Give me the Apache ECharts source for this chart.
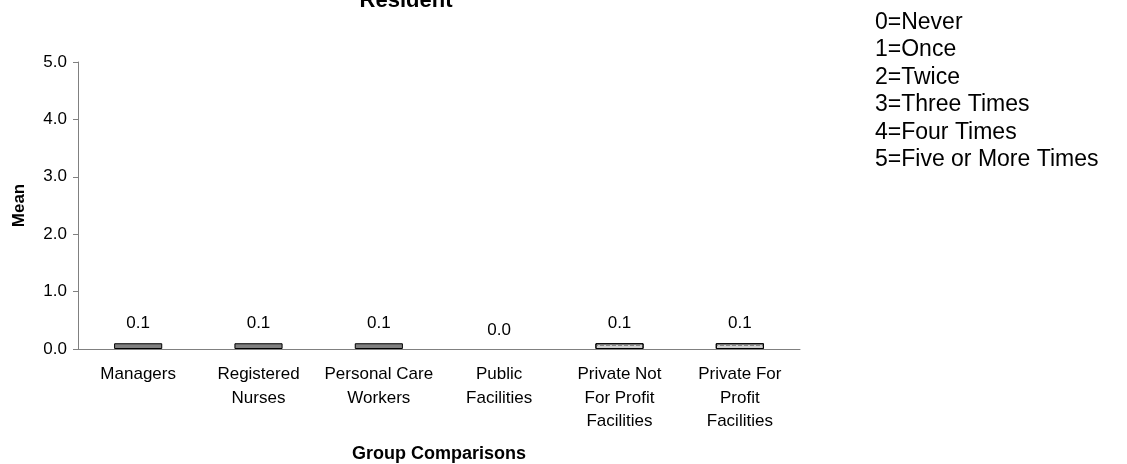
<!DOCTYPE html>
<html>
<head>
<meta charset="utf-8">
<script src="https://cdn.jsdelivr.net/npm/echarts@6/dist/echarts.min.js"></script>
<style>
  html, body { margin: 0; padding: 0; background: #fff; }
  #chart { width: 1127px; height: 464px; }
</style>
</head>
<body>
<div id="chart"></div>
<script>
const categories = ['Managers', 'Registered\nNurses', 'Personal Care\nWorkers', 'Public\nFacilities', 'Private Not\nFor Profit\nFacilities', 'Private For\nProfit\nFacilities'];
const means = [0.1, 0.1, 0.1, 0.0, 0.1, 0.1];
const patterned = [false, false, false, false, true, true];
const legendLines = ['0=Never', '1=Once', '2=Twice', '3=Three Times', '4=Four Times', '5=Five or More Times'];

const chart = echarts.init(document.getElementById('chart'));
const font = 'Liberation Sans, Arial, sans-serif';

const options = {
  animation: false,
  textStyle: { fontFamily: font },
  title: [
    {
      text: 'Resident',
      left: 401,
      top: -15,
      textAlign: 'center',
      textStyle: { fontSize: 22, fontWeight: 'bold', color: '#000', fontFamily: font }
    },
    {
      text: legendLines.join('\n'),
      left: 870,
      top: 4,
      textStyle: { fontSize: 23, fontWeight: 'normal', color: '#000', lineHeight: 27.4, fontFamily: font }
    }
  ],
  grid: { left: 78, right: 327, top: 62, bottom: 115, outerBoundsMode: 'none', containLabel: false },
  xAxis: {
    type: 'category',
    data: categories,
    name: 'Group Comparisons',
    nameLocation: 'middle',
    nameGap: 96,
    nameTextStyle: { fontSize: 18, fontWeight: 'bold', color: '#000' },
    axisLine: { lineStyle: { color: '#808080' } },
    axisTick: { lineStyle: { color: '#444' }, length: 5 },
    axisLabel: { fontSize: 17, color: '#000', lineHeight: 23.5, margin: 14, interval: 0 }
  },
  yAxis: {
    type: 'value',
    min: 0,
    max: 5,
    interval: 1,
    name: 'Mean',
    nameLocation: 'middle',
    nameGap: 50,
    nameTextStyle: { fontSize: 17, fontWeight: 'bold', color: '#000' },
    splitLine: { show: false },
    axisLine: { show: true, lineStyle: { color: '#808080' } },
    axisTick: { show: true, lineStyle: { color: '#808080' }, length: 5 },
    axisLabel: { fontSize: 17, color: '#000', margin: 11, formatter: v => v.toFixed(1) }
  },
  series: [{
    type: 'bar',
    barWidth: '40%',
    data: means.map((v, i) => ({
      value: v,
      itemStyle: v === 0
        ? { color: 'transparent', borderWidth: 0 }
        : patterned[i]
          ? { color: '#d0d0d0', borderColor: '#000', borderWidth: 1,
              decal: { symbol: 'rect', symbolSize: 1, color: '#8a8a8a', dashArrayX: [[4, 2]], dashArrayY: [1, 2], rotation: 0 } }
          : { color: '#808080', borderColor: '#000', borderWidth: 1 },
      label: { distance: v === 0 ? 10 : 11 }
    })),
    label: {
      show: true,
      position: 'top',
      fontSize: 17,
      color: '#000',
      formatter: p => p.value.toFixed(1)
    }
  }]
};

chart.setOption(options);
</script>
</body>
</html>
